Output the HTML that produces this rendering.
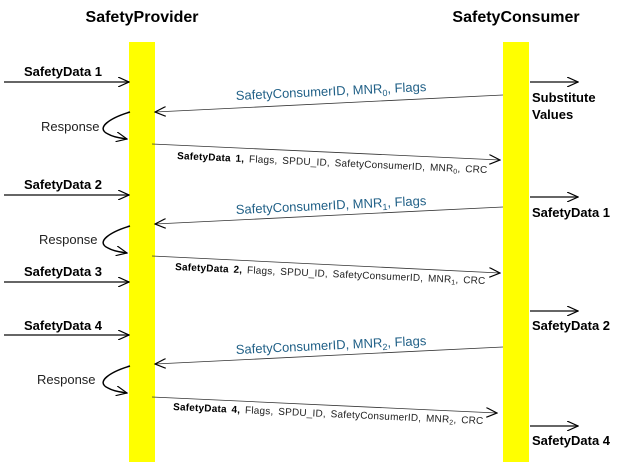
<!DOCTYPE html>
<html><head><style>body{margin:0;background:#fff}svg{display:block}text{font-family:"Liberation Sans",Arial,sans-serif}</style></head><body>
<svg width="620" height="462" viewBox="0 0 620 462" xmlns="http://www.w3.org/2000/svg">
<defs><marker id="a" markerWidth="12" markerHeight="10" refX="11" refY="5" orient="auto" markerUnits="userSpaceOnUse"><path d="M0,0 L11,5 L0,10" fill="none" stroke="#000" stroke-width="1.2"/></marker></defs>
<rect x="129" y="42" width="26" height="420" fill="#ffff00"/>
<rect x="503" y="42" width="26" height="420" fill="#ffff00"/>
<text x="142" y="22" font-size="16" font-weight="bold" text-anchor="middle">SafetyProvider</text>
<text x="516" y="22" font-size="16" font-weight="bold" text-anchor="middle">SafetyConsumer</text>
<g stroke="#333" stroke-width="1.5" marker-end="url(#a)">
<line x1="4" y1="82" x2="129" y2="82"/><line x1="4" y1="195" x2="129" y2="195"/><line x1="4" y1="282" x2="129" y2="282"/><line x1="4" y1="335" x2="129" y2="335"/>
<line x1="530" y1="82" x2="578" y2="82"/><line x1="530" y1="197" x2="578" y2="197"/><line x1="530" y1="311" x2="578" y2="311"/><line x1="530" y1="426" x2="578" y2="426"/>
</g>
<g font-size="13" font-weight="bold">
<text x="24" y="76">SafetyData 1</text><text x="24" y="189">SafetyData 2</text><text x="24" y="276">SafetyData 3</text><text x="24" y="330">SafetyData 4</text>
<text x="532" y="102">Substitute</text><text x="532" y="119">Values</text>
<text x="532" y="217">SafetyData 1</text><text x="532" y="330">SafetyData 2</text><text x="532" y="445">SafetyData 4</text>
</g>
<g stroke="#333" stroke-width="0.8" fill="none" marker-end="url(#a)">
<line x1="503" y1="95" x2="155" y2="112"/><line x1="152" y1="144" x2="500" y2="160"/>
<line x1="503" y1="207" x2="155" y2="224"/><line x1="152" y1="256" x2="500" y2="273"/>
<line x1="503" y1="347" x2="155" y2="364"/><line x1="152" y1="397" x2="497" y2="413"/>
</g>
<g stroke="#000" stroke-width="1.5" fill="none" marker-end="url(#a)">
<path d="M130,112 C110,118 95,128 108,134 C115,138 122,138 127,139"/>
<path d="M130,226 C110,232 95,242 108,248 C115,252 122,252 127,253"/>
<path d="M130,366 C110,372 95,382 108,388 C115,392 122,392 127,393"/>
</g>
<g font-size="13" fill="#222"><text x="41" y="131">Response</text><text x="39" y="244">Response</text><text x="37" y="384">Response</text></g>
<g font-size="13" fill="#1f5f86">
<text x="236" y="100" transform="rotate(-2.7 236 100)">SafetyConsumerID, MNR<tspan font-size="9" dy="3">0</tspan><tspan dy="-3">,  Flags</tspan></text>
<text x="236" y="214" transform="rotate(-2.7 236 214)">SafetyConsumerID, MNR<tspan font-size="9" dy="3">1</tspan><tspan dy="-3">,  Flags</tspan></text>
<text x="236" y="354" transform="rotate(-2.7 236 354)">SafetyConsumerID, MNR<tspan font-size="9" dy="3">2</tspan><tspan dy="-3">,  Flags</tspan></text>
</g>
<g font-size="10" fill="#222" letter-spacing="0.2" word-spacing="1.8">
<text x="177" y="159" transform="rotate(2.6 177 159)"><tspan font-weight="bold" fill="#000">SafetyData 1,</tspan> Flags,  SPDU_ID,  SafetyConsumerID,  MNR<tspan font-size="7" dy="2">0</tspan><tspan dy="-2">,  CRC</tspan></text>
<text x="175" y="270" transform="rotate(2.6 175 270)"><tspan font-weight="bold" fill="#000">SafetyData 2,</tspan> Flags,  SPDU_ID,  SafetyConsumerID,  MNR<tspan font-size="7" dy="2">1</tspan><tspan dy="-2">,  CRC</tspan></text>
<text x="173" y="410" transform="rotate(2.6 173 410)"><tspan font-weight="bold" fill="#000">SafetyData 4,</tspan> Flags,  SPDU_ID,  SafetyConsumerID,  MNR<tspan font-size="7" dy="2">2</tspan><tspan dy="-2">,  CRC</tspan></text>
</g>
</svg>
</body></html>
